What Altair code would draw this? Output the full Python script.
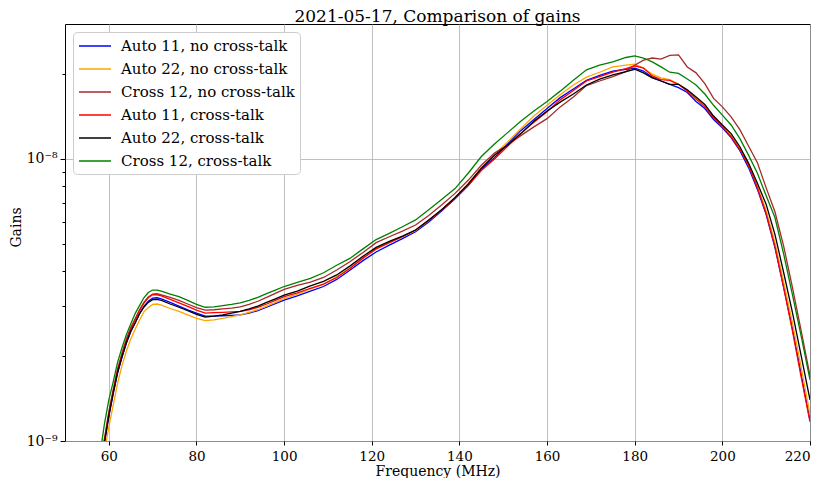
import altair as alt
import pandas as pd

# Frequency samples (MHz)
FREQ = [58, 59, 60, 61, 62, 63, 64, 65, 66, 67, 68, 69, 70, 71, 72,
        74, 76, 78, 80, 82, 84, 86, 88, 90, 92, 94, 96, 98, 100,
        103, 106, 109, 112, 115, 118, 121, 124, 127, 130, 133, 136, 139, 142,
        145, 148, 151, 154, 157, 160, 163, 166, 169, 172, 175, 178,
        180, 182, 184, 186, 188, 190, 192, 194, 196, 198, 200, 202, 204, 206,
        208, 210, 212, 214, 216, 218, 220]

# Gains in units of 1e-9
AUTO11_NO = [0.85, 0.98, 1.22, 1.47, 1.74, 1.98, 2.22, 2.44, 2.62, 2.83, 3.00, 3.13, 3.21, 3.22, 3.19,
             3.10, 3.01, 2.92, 2.84, 2.77, 2.77, 2.78, 2.79, 2.80, 2.84, 2.90, 2.98, 3.07, 3.16,
             3.27, 3.40, 3.53, 3.74, 4.03, 4.36, 4.68, 4.95, 5.22, 5.52, 5.98, 6.55, 7.22, 8.05,
             9.20, 10.1, 11.3, 12.6, 13.8, 15.1, 16.5, 17.7, 19.0, 19.8, 20.5, 20.8,
             21.0, 20.5, 19.5, 18.9, 18.4, 17.9, 17.2, 16.0, 15.1, 13.8, 12.9, 11.9, 10.7, 9.3,
             7.8, 6.35, 4.85, 3.5, 2.5, 1.72, 1.18]

AUTO22_NO = [0.75, 0.92, 1.12, 1.34, 1.60, 1.85, 2.08, 2.30, 2.49, 2.68, 2.87, 2.97, 3.05, 3.06, 3.03,
             2.95, 2.88, 2.80, 2.72, 2.67, 2.69, 2.72, 2.76, 2.80, 2.86, 2.92, 3.01, 3.10, 3.20,
             3.32, 3.46, 3.60, 3.82, 4.10, 4.46, 4.80, 5.05, 5.30, 5.58, 6.05, 6.60, 7.28, 8.15,
             9.30, 10.4, 11.5, 12.8, 14.2, 15.5, 16.9, 18.3, 19.5, 20.3, 21.2, 21.5,
             21.7, 21.0, 20.0, 19.4, 19.1, 18.4, 17.5, 16.4, 15.4, 14.1, 13.1, 12.1, 10.9, 9.5,
             8.0, 6.55, 5.05, 3.65, 2.62, 1.82, 1.24]

CROSS12_NO = [0.88, 1.02, 1.27, 1.52, 1.80, 2.05, 2.30, 2.52, 2.71, 2.92, 3.10, 3.24, 3.32, 3.33, 3.30,
              3.23, 3.15, 3.06, 2.97, 2.91, 2.92, 2.94, 2.96, 2.99, 3.05, 3.13, 3.23, 3.34, 3.45,
              3.56, 3.66, 3.80, 4.04, 4.32, 4.66, 5.05, 5.30, 5.55, 5.83, 6.30, 6.88, 7.55, 8.40,
              9.50, 10.5, 11.2, 12.1, 13.0, 13.9, 15.3, 16.6, 18.2, 18.9, 19.6, 20.4,
              21.5, 22.4, 22.8, 22.6, 23.3, 23.4, 21.2, 20.2, 18.5, 16.4, 15.3, 14.1, 12.7, 11.1,
              9.7, 7.9, 6.5, 4.9, 3.5, 2.45, 1.70]

AUTO11_CT = [0.85, 1.00, 1.25, 1.50, 1.78, 2.02, 2.27, 2.50, 2.68, 2.90, 3.08, 3.22, 3.30, 3.30, 3.27,
             3.18, 3.09, 3.00, 2.91, 2.84, 2.85, 2.86, 2.87, 2.88, 2.92, 2.98, 3.06, 3.15, 3.25,
             3.35, 3.48, 3.60, 3.80, 4.09, 4.45, 4.80, 5.05, 5.30, 5.60, 6.05, 6.60, 7.25, 8.05,
             9.10, 10.0, 11.1, 12.3, 13.5, 14.7, 16.2, 17.5, 18.9, 19.6, 20.3, 20.9,
             21.4, 21.0, 19.7, 19.1, 19.0, 18.4, 17.4, 16.3, 15.3, 14.0, 13.0, 12.0, 10.8, 9.5,
             7.9, 6.4, 4.9, 3.5, 2.45, 1.68, 1.17]

AUTO22_CT = [0.85, 0.99, 1.23, 1.48, 1.75, 1.99, 2.23, 2.45, 2.62, 2.82, 2.98, 3.10, 3.17, 3.18, 3.15,
             3.06, 2.98, 2.90, 2.81, 2.75, 2.77, 2.80, 2.84, 2.88, 2.94, 3.01, 3.10, 3.19, 3.29,
             3.40, 3.55, 3.68, 3.88, 4.17, 4.52, 4.86, 5.10, 5.33, 5.60, 6.08, 6.62, 7.30, 8.15,
             9.27, 10.3, 11.2, 12.3, 13.6, 14.8, 15.9, 17.0, 18.3, 19.2, 19.85, 20.4,
             20.8, 20.2, 19.4, 18.9, 18.4, 18.4, 17.6, 16.6, 15.6, 14.2, 13.2, 12.3, 11.05, 9.65,
             8.2, 6.9, 5.4, 3.95, 2.85, 2.0, 1.40]

CROSS12_CT = [0.90, 1.15, 1.40, 1.62, 1.90, 2.14, 2.38, 2.60, 2.83, 3.02, 3.22, 3.36, 3.43, 3.43, 3.40,
              3.32, 3.25, 3.15, 3.05, 2.98, 2.99, 3.02, 3.05, 3.09, 3.15, 3.23, 3.33, 3.43, 3.53,
              3.65, 3.77, 3.95, 4.20, 4.44, 4.80, 5.18, 5.45, 5.75, 6.08, 6.60, 7.20, 7.85, 8.90,
              10.2, 11.3, 12.4, 13.6, 14.8, 16.0, 17.4, 19.0, 20.7, 21.5, 22.1, 22.9,
              23.2, 22.8, 22.1, 21.2, 20.3, 20.1, 19.2, 18.3, 17.0, 15.5, 14.3, 13.2, 11.8, 10.3,
              8.9, 7.4, 6.2, 4.6, 3.3, 2.35, 1.65]

SERIES = ["Auto 11, no cross-talk", "Auto 22, no cross-talk", "Cross 12, no cross-talk",
          "Auto 11, cross-talk", "Auto 22, cross-talk", "Cross 12, cross-talk"]
COLORS = ["blue", "orange", "brown", "red", "black", "green"]
VALUES = [AUTO11_NO, AUTO22_NO, CROSS12_NO, AUTO11_CT, AUTO22_CT, CROSS12_CT]

X_TICKS = [60, 80, 100, 120, 140, 160, 180, 200, 220]
Y_TICKS = [1e-9, 2e-9, 3e-9, 4e-9, 5e-9, 6e-9, 7e-9, 8e-9, 9e-9, 1e-8, 2e-8]

rows = []
for idx, (name, vals) in enumerate(zip(SERIES, VALUES)):
    for f, v in zip(FREQ, vals):
        rows.append({"freq": f, "gain": v * 1e-9, "series": name, "k": idx})
df = pd.DataFrame(rows)

FONT = "DejaVu Serif"
MAJOR = "abs(log(datum.value)/LN10 - round(log(datum.value)/LN10)) < 0.001"

chart = alt.Chart(df).mark_line(strokeWidth=1.3, clip=True).encode(
    x=alt.X("freq:Q",
            scale=alt.Scale(domain=[50, 220], nice=False, zero=False),
            axis=alt.Axis(values=X_TICKS, title="Frequency (MHz)", format="d",
                          tickSize=4, labelPadding=4,
                          titleX=372.5, titleY=34, titleBaseline="alphabetic",
                          titleAlign="center",
                          labelFontSize=13.5, titleFontSize=14)),
    y=alt.Y("gain:Q",
            scale=alt.Scale(type="log", domain=[1e-9, 3.01e-8], nice=False),
            axis=alt.Axis(values=Y_TICKS, title="Gains",
                          labelExpr="(" + MAJOR + ") ? ('10' + (round(log(datum.value)/LN10) == -9 ? '⁻⁹' : '⁻⁸')) : ''",
                          tickSize={"condition": {"test": MAJOR, "value": 5}, "value": 3},
                          gridOpacity={"condition": {"test": MAJOR, "value": 1}, "value": 0},
                          labelPadding=3,
                          titleX=-45, titleY=203, titleAngle=270,
                          titleBaseline="alphabetic", titleAlign="center",
                          labelFontSize=14, titleFontSize=14)),
    color=alt.Color("series:N",
                    scale=alt.Scale(domain=SERIES, range=COLORS),
                    legend=alt.Legend(title=None, orient="none", legendX=8, legendY=8,
                                      symbolType="M-1,0H3", symbolSize=256,
                                      symbolStrokeWidth=1.5, labelOffset=25,
                                      labelFontSize=15, labelFont=FONT, labelLimit=400,
                                      labelColor="black",
                                      rowPadding=6, padding=5,
                                      fillColor="white", strokeColor="#cccccc",
                                      cornerRadius=4)),
    detail="k:N",
).properties(
    width=745,
    height=417,
    title=alt.TitleParams("2021-05-17, Comparison of gains", font=FONT, fontSize=17,
                          fontWeight="normal", anchor="middle", offset=-2,
                          color="black"),
    padding={"left": 57, "top": 16, "right": 12, "bottom": 37},
    autosize="none",
).configure_view(
    stroke="black", strokeWidth=1
).configure_axis(
    labelFont=FONT, titleFont=FONT, labelColor="black", titleColor="black",
    titleFontWeight="normal", tickColor="black", domain=False,
    gridColor="#b0b0b0", gridWidth=0.8
)

chart.save("out.html", embed_options={"renderer": "svg", "actions": False})
